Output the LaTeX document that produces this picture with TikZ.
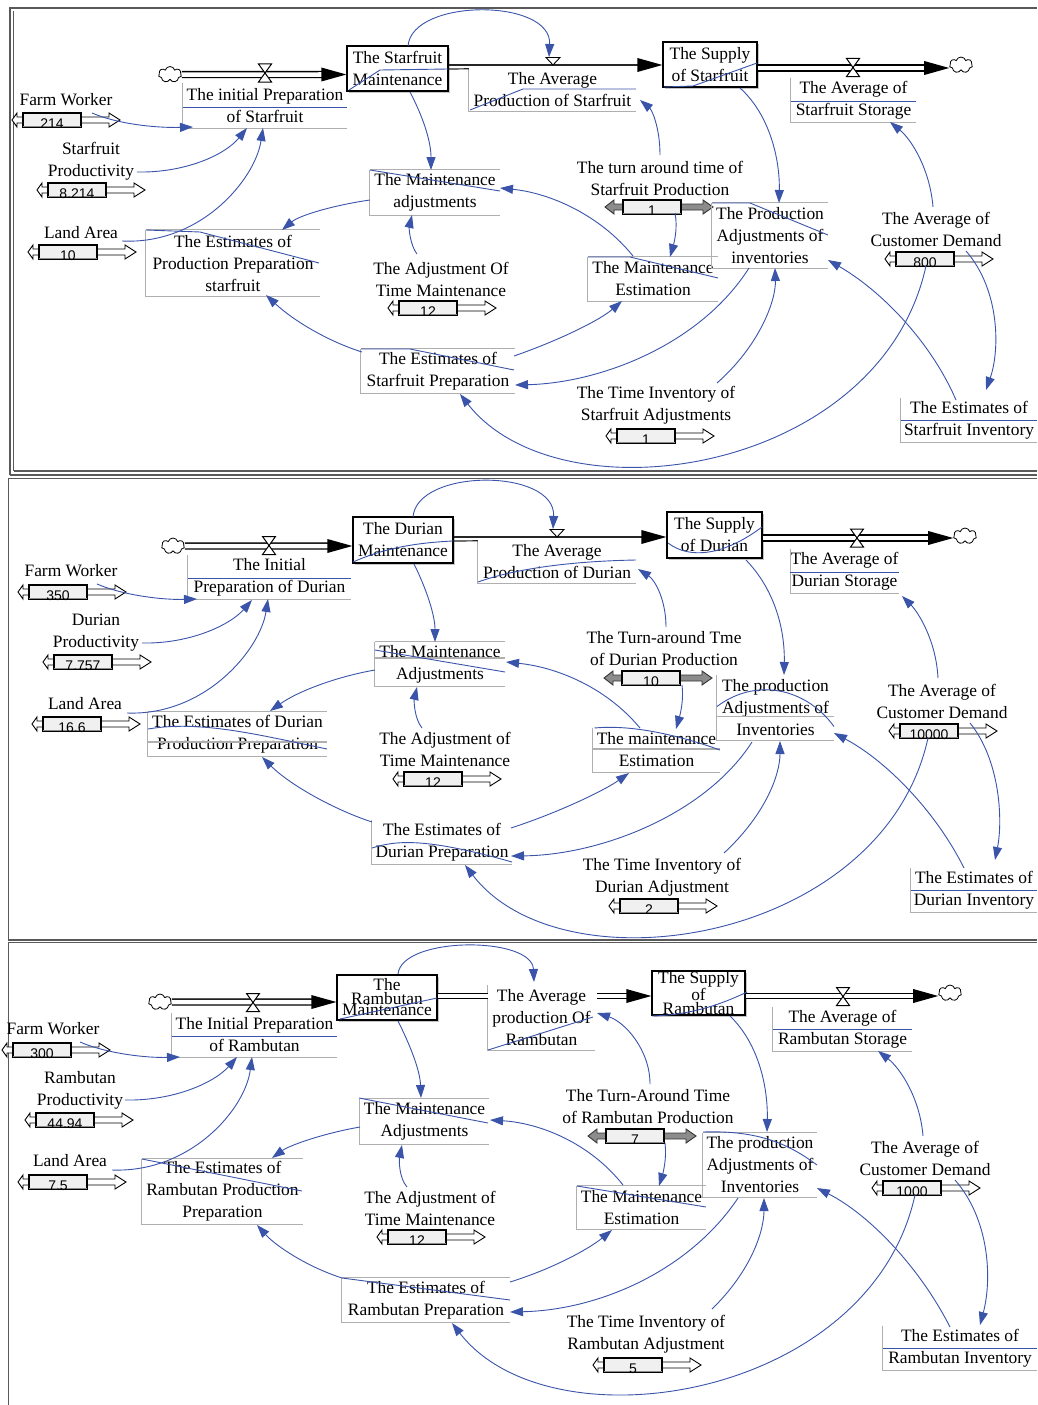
\documentclass[tikz,border=0pt]{standalone}
\usepackage{fontspec}
\setmainfont{Liberation Serif}
\newfontfamily\numfont{Liberation Sans}
\usetikzlibrary{calc,arrows.meta,shapes.symbols,shadows}
\definecolor{lb}{RGB}{58,84,170}
\definecolor{bg}{RGB}{175,175,175}
\tikzset{
 lbl/.style={align=center, inner sep=0pt, font=\fontsize{17.4}{22}\selectfont},
 tight/.style={align=center, inner sep=0pt, font=\fontsize{17.4}{11.8}\selectfont},
 boxline/.style={draw=bg, line width=1.2pt},
 stray/.style={draw=lb, line width=0.9pt},
 link/.style={draw=lb, line width=0.9pt, -{Triangle[length=13pt,width=9pt]}},
 stock/.style={draw, line width=1.3pt, fill=white, drop shadow={shadow xshift=2pt, shadow yshift=-2pt, opacity=0.45}},
 pipe/.style={draw=black, line width=1.3pt, double=white, double distance=4.5pt},
 sl/.style={draw=black, line width=0.9pt, fill=white},
 slg/.style={draw=black!80, line width=0.9pt, fill=black!45},
 slbox/.style={draw=black, line width=1.3pt, fill=black!6, minimum width=58pt, minimum height=14pt, inner sep=0pt},
 slnum/.style={inner sep=0pt, font=\numfont\fontsize{14}{14}\selectfont},
 frame/.style={draw=black!65},
 cloudn/.style={cloud, cloud puffs=7, aspect=1.4, draw, line width=0.8pt, fill=white, minimum width=23pt, minimum height=16pt, inner sep=0pt},
}
\newcommand{\abx}[6]{\node[lbl, minimum width=#4pt, minimum height=#5pt] (#1) at (#2,#3) {#6};
  \draw[boxline] (#1.north west) -- (#1.south west) -- (#1.south east);}
\newcommand{\tpl}[1]{\draw[boxline] (#1.north west) -- (#1.north east);}
\newcommand{\valve}[3]{\node[coordinate] (#1) at (#2,#3) {};
  \draw[line width=1pt, fill=white] ($(#1)+(-6.5,-9)$) -- ($(#1)+(6.5,-9)$) -- ($(#1)+(-6.5,9)$) -- ($(#1)+(6.5,9)$) -- cycle;}
\newcommand{\tri}[3]{\node[coordinate] (#1) at (#2,#3) {};
  \draw[fill=white, line width=0.9pt] ($(#1)+(-7,-3.5)$) -- ($(#1)+(7,-3.5)$) -- ($(#1)+(0,4)$) -- cycle;}
\newcommand{\sliderW}[4]{%
 \draw[sl] (#2,#3-3) -- (#2-6,#3-3) -- (#2-6,#3-7) -- (#2-11,#3) -- (#2-6,#3+7) -- (#2-6,#3+3) -- (#2,#3+3);
 \draw[sl] (#2+58,#3-3) -- (#2+86,#3-3) -- (#2+86,#3-7) -- (#2+97,#3) -- (#2+86,#3+7) -- (#2+86,#3+3) -- (#2+58,#3+3);
 \node[slbox] (#1) at (#2+29,#3) {};
 \draw[black!45, line width=1.5pt] ($(#1.south west)+(1,-1.2)$) -- ($(#1.south east)+(-1,-1.2)$);
 \node[slnum] (#1v) at (#2+29,#3+4) {#4};}
\newcommand{\sliderG}[4]{%
 \draw[slg] (#2,#3-3) -- (#2-9,#3-3) -- (#2-9,#3-7) -- (#2-18,#3) -- (#2-9,#3+7) -- (#2-9,#3+3) -- (#2,#3+3);
 \draw[slg] (#2+58,#3-3) -- (#2+80,#3-3) -- (#2+80,#3-7) -- (#2+90,#3) -- (#2+80,#3+7) -- (#2+80,#3+3) -- (#2+58,#3+3);
 \node[slbox] (#1) at (#2+29,#3) {};
 \draw[black!45, line width=1.5pt] ($(#1.south west)+(1,-1.2)$) -- ($(#1.south east)+(-1,-1.2)$);
 \node[slnum] (#1v) at (#2+29,#3+4) {#4};}
\newcommand{\fhead}[1]{\fill[black] (#1) -- ++(-25,-7) -- ++(0,14) -- cycle;}

\begin{document}
\begin{tikzpicture}[x=1pt,y=-1pt]
\fill[white] (0,0) rectangle (1037,1405);
\useasboundingbox (0,0) rectangle (1037,1405);

% ---------------- frames ----------------
\draw[frame, line width=2pt] (10,475) -- (10,8) -- (1037,8);
\draw[frame, line width=1pt] (13.5,471) -- (13.5,11);
\draw[frame, line width=1.2pt] (13.5,471) -- (1037,471);
\draw[frame, line width=2pt] (10,475) -- (1037,475);
\draw[frame, line width=1.5pt] (8,478.5) -- (1037,478.5);
\draw[frame, line width=1.5pt] (8.5,478) -- (8.5,940);
\draw[frame, line width=2pt] (8,939.5) -- (1037,939.5);
\draw[frame, line width=1.2pt] (8,942.5) -- (1037,942.5);
\draw[frame, line width=1.5pt] (8.5,942) -- (8.5,1405);

% =============== PANEL 1 : STARFRUIT ===============
\node[cloudn] (cl1a) at (170,74.5) {};
\node[stock, lbl, minimum width=101pt, minimum height=45pt] (st1) at (397.5,68.5) {The Starfruit\\Maintenance};
\draw[pipe] (cl1a.east) -- ($(st1.west |- cl1a)+(-24,0)$);
\fhead{st1.west |- cl1a}
\valve{v1a}{265}{73}
\abx{fl1}{265}{105.5}{164}{45}{The initial Preparation\\of Starfruit}
\abx{ap1}{552.5}{90}{167}{42}{The Average\\Production of Starfruit}
\node[stock, lbl, minimum width=94pt, minimum height=45pt] (su1) at (710,64.5) {The Supply\\of Starfruit};
\draw[line width=1.6pt, black!85] ($(st1.east)+(0,-3.5)$) -- ($(su1.west)+(-24,0.5)$);
\draw[line width=1.2pt, black!85] ($(st1.east)+(0,0.5)$) -- (ap1.north west);
\fill[black] ($(su1.west)+(0,0.5)$) -- ++(-25,-7) -- ++(0,14) -- cycle;
\tri{v1b}{553}{61}
\node[cloudn] (cl1b) at (961,65) {};
\node[coordinate] (p1c) at (853,68) {};
\draw[pipe] (su1.east |- p1c) -- ($(cl1b.west |- p1c)+(-24,0)$);
\fhead{cl1b.west |- p1c}
\valve{v1c}{853}{67.5}
\abx{as1}{853.5}{100}{125}{44}{The Average of\\Starfruit Storage}

\node[lbl] (fw1) at (66,100) {Farm Worker};
\sliderW{s1a}{23}{120}{214}
\node[lbl] (pr1) at (91,161.5) {Starfruit\\Productivity};
\sliderW{s1b}{48}{190}{8.214}
\node[lbl] (la1) at (81,233) {Land Area};
\sliderW{s1c}{39}{252}{10}
\abx{ep1}{233}{263}{174}{66}{The Estimates of\\Production Preparation\\starfruit}\tpl{ep1}
\abx{ma1}{435}{192.5}{130}{45}{The Maintenance\\adjustments}\tpl{ma1}
\node[lbl] (at1) at (441,279) {The Adjustment Of\\Time Maintenance};
\sliderW{s1d}{399}{308}{12}
\node[lbl] (tu1) at (660,178) {The turn around time of\\Starfruit Production};
\sliderG{s1e}{623}{207}{1}
\abx{me1}{653}{279}{130}{44}{The Maintenance\\Estimation}\tpl{me1}
\abx{pa1}{770}{235.5}{116}{65}{The Production\\Adjustments of\\inventories}\tpl{pa1}
\abx{es1}{438}{371}{154}{44}{The Estimates of\\Starfruit Preparation}\tpl{es1}
\node[lbl] (ti1) at (656,405.5) {The Time Inventory of\\Starfruit Adjustments};
\sliderW{s1f}{617}{436}{1}
\node[lbl] (cd1) at (936,229.5) {The Average of\\Customer Demand};
\sliderW{s1g}{896}{259}{800}
\abx{ei1}{969}{420}{136}{44}{The Estimates of\\Starfruit Inventory}

% stray blue lines panel 1
\draw[stray] ($(fl1.west)+(0,1.5)$) -- ($(fl1.east)+(0,1.5)$);
\draw[stray] ($(st1)+(-48.5,21.5)$) -- ($(st1)+(-17.5,1.5)$) -- ($(st1)+(50.5,0.5)$);
\draw[stray] ($(ap1)+(-82.5,20)$) -- ($(ap1)+(-29.5,-1)$) -- ($(ap1)+(83.5,-1)$);
\draw[stray] ($(su1)+(-46,22.5)$) -- ($(su1)+(-17,21.5)$) -- ($(su1)+(47,-1.5)$);
\draw[stray] ($(as1.west)+(0,1)$) -- ($(as1.east)+(0,1)$);
\draw[stray] ($(pa1)+(-58,-32.5)$) -- ($(pa1)+(-20,-32.5)$) -- ($(pa1)+(58,-0.5)$);
\draw[stray] ($(ma1)+(-65,-22.5)$) -- ($(ma1)+(65,-1.5)$);
\draw[stray] ($(ep1)+(-87,-33)$) -- ($(ep1)+(-33,-31)$) -- ($(ep1)+(86,0)$);
\draw[stray] ($(me1)+(-65,-22)$) -- ($(me1)+(-23,-22)$) -- ($(me1)+(65,-1)$);
\draw[stray] ($(es1)+(-77,-22)$) -- ($(es1)+(-28,-22)$) -- ($(es1)+(76,-1)$);
\draw[stray] ($(ei1.west)+(0,0.5)$) -- ($(ei1.east)+(0,0.5)$);

% links panel 1
\draw[link] ($(st1)+(408-397.5,46-68.5)$) .. controls (412,-2) and (552,-2) .. ($(v1b)+(549-553,57-61)$);
\draw[link] ($(fw1)+(92-66,113-100)$) .. controls (120,125) and (160,128) .. ($(fl1)+(193-265,127-105.5)$);
\draw[link] ($(pr1)+(137-91,172-161.5)$) .. controls (185,173) and (225,155) .. ($(fl1)+(247-265,128-105.5)$);
\draw[link] ($(la1)+(122-81,241-233)$) .. controls (200,245) and (255,180) .. ($(fl1)+(263-265,128-105.5)$);
\draw[link] ($(ma1)+(370-435,200-192.5)$) .. controls (335,205) and (300,215) .. ($(ep1)+(282-233,230-263)$);
\draw[link] ($(es1)+(362-438,352-371)$) .. controls (330,342) and (295,322) .. ($(ep1)+(266-233,295-263)$);
\draw[link] ($(st1)+(410-397.5,92-68.5)$) .. controls (422,115) and (431,140) .. ($(ma1)+(431-435,170-192.5)$);
\draw[link] ($(at1)+(417-441,254-279)$) .. controls (410,245) and (409,228) .. ($(ma1)+(412-435,215-192.5)$);
\draw[link] ($(me1)+(633-653,256-279)$) .. controls (600,215) and (550,193) .. ($(ma1)+(500-435,188-192.5)$);
\draw[link] ($(tu1)+(660-660,155-178)$) .. controls (660,128) and (652,110) .. ($(ap1)+(640-552.5,100-90)$);
\draw[link] ($(s1e)+(675-652,213-207)$) .. controls (678,228) and (674,243) .. ($(me1)+(670-653,257-279)$);
\draw[link] ($(su1)+(740-710,88-64.5)$) .. controls (770,115) and (780,160) .. ($(pa1)+(779-770,203-235.5)$);
\draw[link] ($(es1)+(514-438,356-371)$) .. controls (560,340) and (600,320) .. ($(me1)+(622-653,301-279)$);
\draw[link] ($(pa1)+(749-770,268-235.5)$) .. controls (700,345) and (600,383) .. ($(es1)+(515-438,385-371)$);
\draw[link] ($(ti1)+(717-656,383-405.5)$) .. controls (760,345) and (776,300) .. ($(pa1)+(775-770,268-235.5)$);
\draw[link] ($(cd1)+(933-936,207-229.5)$) .. controls (930,170) and (912,140) .. ($(as1)+(890-853.5,122-100)$);
\draw[link] ($(s1g)+(926-925,266-259)$) .. controls (880,475) and (560,522) .. ($(es1)+(460-438,394-371)$);
\draw[link] ($(cd1)+(966-936,251-229.5)$) .. controls (1000,290) and (1000,350) .. ($(ei1)+(986-969,390-420)$);
\draw[link] ($(ei1)+(956-969,400-420)$) .. controls (930,340) and (880,290) .. ($(pa1)+(828-770,260-235.5)$);

% =============== PANEL 2 : DURIAN ===============
\node[cloudn] (cl2a) at (173,546) {};
\node[stock, lbl, minimum width=100pt, minimum height=46pt] (st2) at (403,540) {The Durian\\Maintenance};
\draw[pipe] (cl2a.east) -- ($(st2.west |- cl2a)+(-24,0)$);
\fhead{st2.west |- cl2a}
\valve{v2a}{269}{545.5}
\abx{fl2}{269.5}{577}{163}{44}{The Initial\\Preparation of Durian}
\abx{ap2}{557}{562}{158}{42}{The Average\\Production of Durian}
\node[stock, lbl, minimum width=95pt, minimum height=46pt] (su2) at (714.5,535) {The Supply\\of Durian};
\draw[line width=1.6pt, black!85] ($(st2.east)+(0,-3)$) -- ($(su2.west)+(-24,2)$);
\draw[line width=1.2pt, black!85] ($(st2.east)+(0,1)$) -- (ap2.north west);
\fill[black] ($(su2.west)+(0,2)$) -- ++(-25,-7) -- ++(0,14) -- cycle;
\tri{v2b}{557}{533}
\node[cloudn] (cl2b) at (965,536) {};
\node[coordinate] (p2c) at (857,538) {};
\draw[pipe] (su2.east |- p2c) -- ($(cl2b.west |- p2c)+(-24,0)$);
\fhead{cl2b.west |- p2c}
\valve{v2c}{857}{538}
\abx{as2}{844.5}{571}{91}{44}{The Average of\\Durian Storage}

\node[lbl] (fw2) at (71,571) {Farm Worker};
\sliderW{s2a}{29}{592}{350}
\node[lbl] (pr2) at (96,633) {Durian\\Productivity};
\sliderW{s2b}{54}{662}{7.757}
\node[lbl] (la2) at (85,704) {Land Area};
\sliderW{s2c}{43}{724}{16.6}
\abx{ep2}{237.5}{734}{179}{44}{The Estimates of Durian\\Production Preparation}\tpl{ep2}
\draw[boxline] ($(ep2.west)+(0,8)$) -- ($(ep2.east)+(0,8)$);
\abx{ma2}{440}{664}{130}{44}{The Maintenance\\Adjustments}\tpl{ma2}
\draw[boxline] ($(ma2.west)+(0,-6)$) -- ($(ma2.east)+(0,-6)$);
\node[lbl] (at2) at (445,749.5) {The Adjustment of\\Time Maintenance};
\sliderW{s2d}{404}{779}{12}
\node[lbl] (tu2) at (664,649) {The Turn-around Tme\\of Durian Production};
\sliderG{s2e}{622}{678}{10}
\abx{me2}{656.5}{750}{127}{44}{The maintenance\\Estimation}
\draw[boxline] ($(me2.west)+(0,-1)$) -- ($(me2.east)+(0,-1)$);
\abx{pa2}{775.5}{707.5}{117}{65}{The production\\Adjustments of\\Inventories}
\draw[boxline] ($(pa2.west)+(0,9)$) -- ($(pa2.east)+(0,9)$);
\abx{es2}{442}{842}{140}{44}{The Estimates of\\Durian Preparation}
\node[lbl] (ti2) at (662,877) {The Time Inventory of\\Durian Adjustment};
\sliderW{s2f}{620}{906}{2}
\node[lbl] (cd2) at (942,701) {The Average of\\Customer Demand};
\sliderW{s2g}{900}{731}{10000}
\abx{ei2}{974}{890}{126}{44}{The Estimates of\\Durian Inventory}

% stray blue lines panel 2
\draw[stray] ($(fl2.west)+(0,1)$) -- ($(fl2.east)+(0,1)$);
\draw[stray] ($(st2)+(-50,22)$) .. controls ($(st2)+(-23,10)$) and ($(st2)+(7,3)$) .. ($(st2)+(50,1)$);
\draw[stray] ($(ap2)+(-79,20)$) .. controls ($(ap2)+(-37,5)$) and ($(ap2)+(23,-1)$) .. ($(ap2)+(79,-2)$);
\draw[stray] ($(su2)+(-46.5,8)$) .. controls ($(su2)+(-24,25)$) and ($(su2)+(10,20)$) .. ($(su2)+(47.5,-8)$);
\draw[stray] ($(as2.west)+(0,1)$) -- ($(as2.east)+(0,1)$);
\draw[stray] ($(ma2)+(-65,-14)$) -- ($(ma2)+(65,8)$);
\draw[stray] ($(ep2)+(-89.5,-5)$) .. controls ($(ep2)+(-37,-14)$) and ($(ep2)+(22,1)$) .. ($(ep2)+(89.5,15)$);
\draw[stray] ($(me2)+(-62,-22)$) .. controls ($(me2)+(-20,-26)$) and ($(me2)+(30,-12)$) .. ($(me2)+(63.5,0)$);
\draw[stray] ($(pa2)+(-58.5,-1)$) .. controls ($(pa2)+(-20,-30)$) and ($(pa2)+(30,-20)$) .. ($(pa2)+(58.5,19)$);
\draw[stray] ($(es2)+(-70,6)$) .. controls ($(es2)+(-45,-2)$) and ($(es2)+(-15,-4)$) .. ($(es2)+(70,20)$);
\draw[stray] ($(ei2.west)+(0,0)$) -- ($(ei2.east)+(0,0)$);

% links panel 2
\draw[link] ($(st2)+(413-403,517-540)$) .. controls (417,468) and (556,468) .. ($(v2b)+(553-557,529-533)$);
\draw[link] ($(fw2)+(97-71,584-571)$) .. controls (125,596) and (165,600) .. ($(fl2)+(197-269.5,599-577)$);
\draw[link] ($(pr2)+(142-96,643-633)$) .. controls (190,644) and (230,625) .. ($(fl2)+(252-269.5,600-577)$);
\draw[link] ($(la2)+(127-85,713-704)$) .. controls (205,716) and (260,650) .. ($(fl2)+(268-269.5,599-577)$);
\draw[link] ($(ma2)+(375-440,670-664)$) .. controls (340,676) and (300,690) .. ($(ep2)+(270-237.5,711-734)$);
\draw[link] ($(es2)+(372-442,822-842)$) .. controls (335,810) and (290,785) .. ($(ep2)+(262-237.5,757-734)$);
\draw[link] ($(st2)+(414-403,564-540)$) .. controls (426,588) and (435,615) .. ($(ma2)+(435-440,642-664)$);
\draw[link] ($(at2)+(422-445,728-749.5)$) .. controls (414,718) and (414,700) .. ($(ma2)+(417-440,687-664)$);
\draw[link] ($(me2)+(640-656.5,728-750)$) .. controls (605,686) and (555,667) .. ($(ma2)+(506-440,662-664)$);
\draw[link] ($(tu2)+(666-664,627-649)$) .. controls (666,600) and (655,580) .. ($(ap2)+(638-557,569-562)$);
\draw[link] ($(s2e)+(682-651,685-678)$) .. controls (684,700) and (680,715) .. ($(me2)+(676-656.5,729-750)$);
\draw[link] ($(su2)+(746-714.5,560-535)$) .. controls (775,590) and (785,630) .. ($(pa2)+(784-775.5,675-707.5)$);
\draw[link] ($(es2)+(511-442,828-842)$) .. controls (560,812) and (605,790) .. ($(me2)+(629-656.5,773-750)$);
\draw[link] ($(pa2)+(752-775.5,742-707.5)$) .. controls (705,815) and (600,855) .. ($(es2)+(511-442,856-842)$);
\draw[link] ($(ti2)+(724-662,853-877)$) .. controls (765,815) and (780,775) .. ($(pa2)+(780-775.5,741-707.5)$);
\draw[link] ($(cd2)+(938-942,678-701)$) .. controls (936,640) and (918,612) .. ($(as2)+(902-844.5,596-571)$);
\draw[link] ($(s2g)+(928-929,738-731)$) .. controls (883,943) and (563,993) .. ($(es2)+(465-442,865-842)$);
\draw[link] ($(cd2)+(970-942,723-701)$) .. controls (1000,760) and (1003,820) .. ($(ei2)+(995-974,860-890)$);
\draw[link] ($(ei2)+(964-974,868-890)$) .. controls (935,810) and (885,760) .. ($(pa2)+(834-775.5,733-707.5)$);

% =============== PANEL 3 : RAMBUTAN ===============
\node[cloudn] (cl3a) at (160,1002) {};
\node[stock, tight, minimum width=100pt, minimum height=45pt] (st3) at (387,997.5) {The\\Rambutan\\Maintenance};
\draw[pipe] (cl3a.east) -- ($(st3.west |- cl3a)+(-24,0)$);
\fhead{st3.west |- cl3a}
\valve{v3a}{253}{1002.5}
\abx{fl3}{254.5}{1035}{165}{44}{The Initial Preparation\\of Rambutan}
\node[lbl, minimum width=107pt, minimum height=65pt] (ap3) at (541.5,1017.5) {The Average\\production Of\\Rambutan};
\draw[boxline] (ap3.north west) -- (ap3.south west) -- (ap3.south east);
\node[stock, tight, minimum width=93pt, minimum height=44pt] (su3) at (698.5,993) {The Supply\\of\\Rambutan};
\draw[pipe, double distance=3.5pt] ($(st3.east)+(0,-1.5)$) -- ($(ap3.west |- st3.east)+(0,-1.5)$);
\draw[pipe, double distance=3.5pt] ($(ap3.east)+(2,-21.5)$) -- ($(su3.west)+(-24,3)$);
\fill[black] ($(su3.west)+(0,3)$) -- ++(-25,-7) -- ++(0,14) -- cycle;
\node[cloudn] (cl3b) at (950,993) {};
\node[coordinate] (p3c) at (843,996) {};
\draw[pipe, double distance=3.5pt] (su3.east |- p3c) -- ($(cl3b.west |- p3c)+(-24,0)$);
\fhead{cl3b.west |- p3c}
\valve{v3c}{843}{996.5}
\abx{as3}{842.5}{1029}{139}{44}{The Average of\\Rambutan Storage}

\node[lbl] (fw3) at (53,1029) {Farm Worker};
\sliderW{s3a}{13}{1050}{300}
\node[lbl] (pr3) at (80,1090) {Rambutan\\Productivity};
\sliderW{s3b}{36}{1120}{44.94}
\node[lbl] (la3) at (70,1161) {Land Area};
\sliderW{s3c}{29}{1182}{7.5}
\abx{ep3}{222.5}{1191.5}{161}{65}{The Estimates of\\Rambutan Production\\Preparation}\tpl{ep3}
\abx{ma3}{424.5}{1121.5}{129}{45}{The Maintenance\\Adjustments}\tpl{ma3}
\node[lbl] (at3) at (430,1208) {The Adjustment of\\Time Maintenance};
\sliderW{s3d}{388}{1237}{12}
\node[lbl] (tu3) at (648,1107) {The Turn-Around Time\\of Rambutan Production};
\sliderG{s3e}{606}{1136}{7}
\abx{me3}{641.5}{1207.5}{129}{43}{The Maintenance\\Estimation}\tpl{me3}
\abx{pa3}{760}{1165}{114}{64}{The production\\Adjustments of\\Inventories}\tpl{pa3}
\abx{es3}{426}{1300}{168}{44}{The Estimates of\\Rambutan Preparation}\tpl{es3}
\node[lbl] (ti3) at (646,1334) {The Time Inventory of\\Rambutan Adjustment};
\sliderW{s3f}{604}{1365}{5}
\node[lbl] (cd3) at (925,1158) {The Average of\\Customer Demand};
\sliderW{s3g}{883}{1188}{1000}
\abx{ei3}{960}{1348}{154}{44}{The Estimates of\\Rambutan Inventory}

% stray blue lines panel 3
\draw[stray] ($(fl3.west)+(0,1)$) -- ($(fl3.east)+(0,1)$);
\draw[stray] ($(st3)+(-47,21.5)$) -- ($(st3)+(50,0.5)$);
\draw[stray] ($(ap3)+(-53.5,32.5)$) -- ($(ap3)+(51.5,-0.5)$);
\draw[stray] ($(su3)+(-46.5,23)$) .. controls ($(su3)+(-8.5,22)$) and ($(su3)+(21.5,12)$) .. ($(su3)+(48.5,-1)$);
\draw[stray] (as3.west) -- (as3.east);
\draw[stray] ($(ma3)+(-65.5,-23.5)$) -- ($(ma3)+(63.5,1.5)$);
\draw[stray] ($(ep3)+(-80.5,-32.5)$) -- ($(ep3)+(79.5,-0.5)$);
\draw[stray] ($(me3)+(-64.5,-21.5)$) -- ($(me3)+(64.5,-0.5)$);
\draw[stray] ($(pa3)+(-57,-33)$) .. controls ($(pa3)+(0,-35)$) and ($(pa3)+(30,-20)$) .. ($(pa3)+(57,0)$);
\draw[stray] ($(es3)+(-84,-22)$) -- ($(es3)+(84,0)$);
\draw[stray] (ei3.west) -- (ei3.east);

% links panel 3
\draw[link] ($(st3)+(398-387,974-997.5)$) .. controls (402,936) and (532,936) .. ($(ap3)+(534-541.5,982-1017.5)$);
\draw[link] ($(fw3)+(80-53,1042-1029)$) .. controls (108,1054) and (148,1058) .. ($(fl3)+(180-254.5,1057-1035)$);
\draw[link] ($(pr3)+(125-80,1100-1090)$) .. controls (175,1101) and (215,1082) .. ($(fl3)+(237-254.5,1057-1035)$);
\draw[link] ($(la3)+(112-70,1170-1161)$) .. controls (190,1173) and (245,1110) .. ($(fl3)+(252-254.5,1057-1035)$);
\draw[link] ($(ma3)+(360-424.5,1127-1121.5)$) .. controls (325,1133) and (290,1145) .. ($(ep3)+(272-222.5,1158-1191.5)$);
\draw[link] ($(es3)+(342-426,1278-1300)$) .. controls (305,1266) and (275,1245) .. ($(ep3)+(257-222.5,1225-1191.5)$);
\draw[link] ($(st3)+(398-387,1021-997.5)$) .. controls (410,1045) and (420,1070) .. ($(ma3)+(421-424.5,1098-1121.5)$);
\draw[link] ($(at3)+(407-430,1187-1208)$) .. controls (399,1178) and (399,1160) .. ($(ma3)+(402-424.5,1145-1121.5)$);
\draw[link] ($(me3)+(623-641.5,1185-1207.5)$) .. controls (590,1143) and (540,1123) .. ($(ma3)+(490-424.5,1120-1121.5)$);
\draw[link] ($(tu3)+(650-648,1084-1107)$) .. controls (650,1050) and (625,1022) .. ($(ap3)+(597-541.5,1013-1017.5)$);
\draw[link] ($(s3e)+(665-635,1143-1136)$) .. controls (667,1158) and (663,1173) .. ($(me3)+(659-641.5,1186-1207.5)$);
\draw[link] ($(su3)+(730-698.5,1016-993)$) .. controls (760,1045) and (768,1090) .. ($(pa3)+(767-760,1132-1165)$);
\draw[link] ($(es3)+(510-426,1282-1300)$) .. controls (555,1268) and (590,1248) .. ($(me3)+(612-641.5,1230-1207.5)$);
\draw[link] ($(pa3)+(738-760,1198-1165)$) .. controls (690,1270) and (600,1310) .. ($(es3)+(510-426,1312-1300)$);
\draw[link] ($(ti3)+(712-646,1309-1334)$) .. controls (752,1270) and (764,1230) .. ($(pa3)+(764-760,1198-1165)$);
\draw[link] ($(cd3)+(923-925,1136-1158)$) .. controls (920,1098) and (900,1068) .. ($(as3)+(878-842.5,1051-1029)$);
\draw[link] ($(s3g)+(915-912,1195-1188)$) .. controls (870,1400) and (550,1450) .. ($(es3)+(452-426,1323-1300)$);
\draw[link] ($(cd3)+(955-925,1180-1158)$) .. controls (990,1220) and (992,1280) .. ($(ei3)+(980-960,1325-1348)$);
\draw[link] ($(ei3)+(950-960,1327-1348)$) .. controls (920,1268) and (870,1215) .. ($(pa3)+(817-760,1188-1165)$);
\end{tikzpicture}
\end{document}
